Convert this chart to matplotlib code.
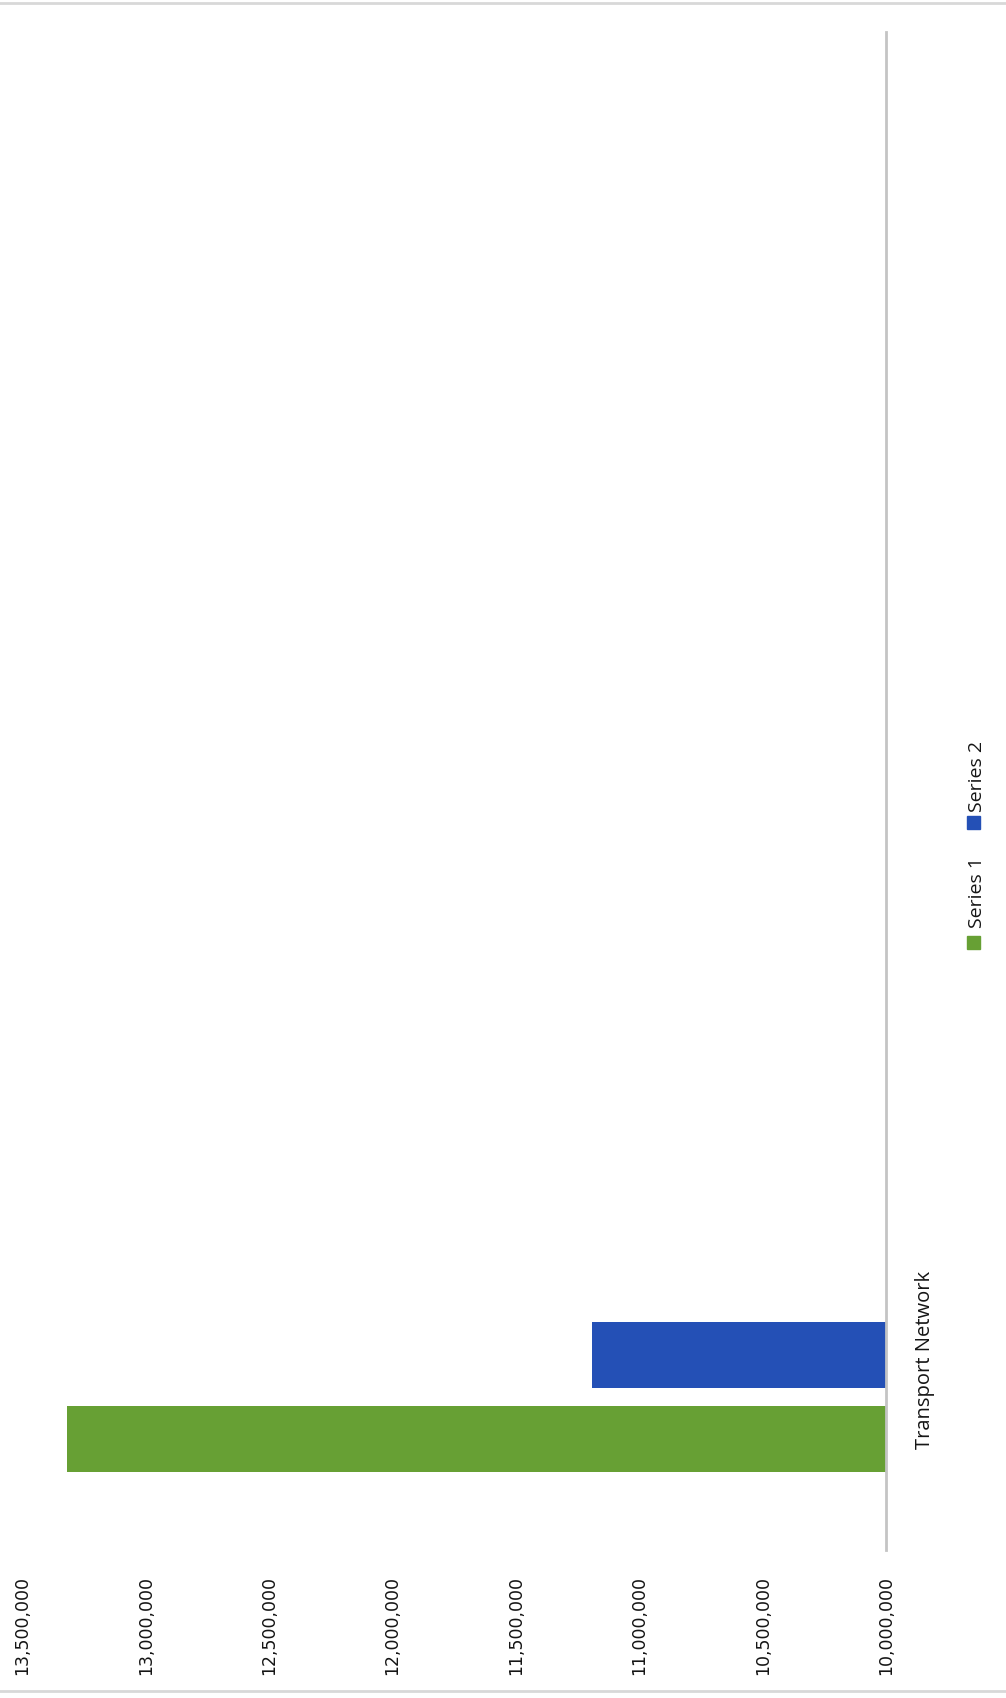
import matplotlib
matplotlib.use('Agg')
import matplotlib.pyplot as plt
import matplotlib.ticker as ticker
from matplotlib.patches import Rectangle
import numpy as np

# Chart values (one filled category, the rest left blank)
categories = ['Transport Network', '', '', '']
series_names = ['Series 1', 'Series 2']
series1 = [13320000]
series2 = [11190000]
base = 10000000
value_ticks = [10000000, 10500000, 11000000, 11500000, 12000000, 12500000, 13000000, 13500000]

green = '#67a034'
blue = '#2450b6'
axis_grey = '#c4c4c4'
text_col = '#151515'

fig = plt.figure(figsize=(10.06, 16.98), dpi=100)
ax = fig.add_axes([22.5 / 1006, 1 - 1550 / 1698, (886 - 22.5) / 1006, (1550 - 32) / 1698])

# bars run leftwards from the 10,000,000 baseline, the page is turned on its side
bar_h = 0.174
step = 0.2225
y = np.arange(len(series1)) + 0.015
ax.barh(y - step, np.array(series1) - base, left=base, height=bar_h, color=green)
ax.barh(y, np.array(series2) - base, left=base, height=bar_h, color=blue)

ax.set_xlim(value_ticks[-1], value_ticks[0])
ax.set_ylim(-0.5, len(categories) - 0.5)
ax.set_xticks(value_ticks)
ax.xaxis.set_major_formatter(ticker.FuncFormatter(lambda v, p: f'{v:,.0f}'))
ax.tick_params(axis='x', length=0, pad=19, labelsize=12.5, labelrotation=90, labelcolor=text_col)

ax.yaxis.tick_right()
ax.set_yticks(np.arange(len(categories)))
ax.set_yticklabels(categories, rotation=90, va='center', fontsize=14.5,
                   family=['Open Sans', 'DejaVu Sans'], color=text_col)
ax.tick_params(axis='y', length=0, pad=21)

for side in ['top', 'left', 'bottom']:
    ax.spines[side].set_visible(False)
ax.spines['right'].set_color(axis_grey)
ax.spines['right'].set_linewidth(2)

# legend drawn sideways at the right edge
W, H = 1006, 1698
sq = 13
for color, name, yc, ytxt in [(green, series_names[0], 942, 928), (blue, series_names[1], 823, 812)]:
    fig.patches.append(Rectangle(((973 - sq / 2) / W, 1 - (yc + sq / 2) / H), sq / W, sq / H,
                                 transform=fig.transFigure, color=color))
    fig.text(977 / W, 1 - ytxt / H, name, rotation=90, ha='center', va='bottom',
             fontsize=14, family=['Open Sans', 'DejaVu Sans'], color=text_col)

# page edge lines
fig.add_artist(plt.Line2D([0, 1], [1 - 3 / H, 1 - 3 / H], transform=fig.transFigure, color='#d8d8d8', lw=2))
fig.add_artist(plt.Line2D([0, 1], [1 - 1691 / H, 1 - 1691 / H], transform=fig.transFigure, color='#d8d8d8', lw=2))

fig.savefig('out.png', dpi=100)
